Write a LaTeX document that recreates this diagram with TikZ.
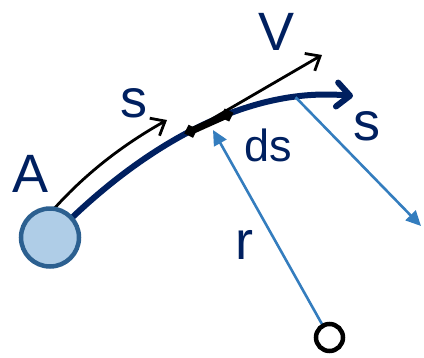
\documentclass[tikz,border=0pt]{standalone}
\usepackage{fontspec}
\setmainfont{Liberation Sans}
\usetikzlibrary{arrows.meta,shapes.geometric,backgrounds}
\definecolor{navy}{RGB}{0,32,96}
\definecolor{ballfill}{RGB}{175,205,231}
\definecolor{ballline}{RGB}{44,96,144}
\definecolor{rayblue}{RGB}{52,125,190}
\begin{document}
\begin{tikzpicture}[x=1pt,y=-1pt,
  lbl/.style={text=navy, font=\fontsize{54}{60}\selectfont, inner sep=0pt, anchor=base},
  ball/.style={circle, draw=ballline, fill=ballfill, line width=4.5pt, minimum size=58pt, inner sep=0pt, outer sep=0pt},
  origin/.style={circle, draw=black, fill=white, line width=4.5pt, minimum size=27pt, inner sep=0pt, outer sep=0pt},
  pathline/.style={draw=navy, line width=6pt, -{Straight Barb[length=13pt,width=24pt,round]}},
  vec/.style={draw=black, line width=2.8pt, -{Straight Barb[length=12pt,width=20pt]}},
  ray/.style={draw=rayblue, line width=2.6pt, -{Triangle[length=15pt,width=14pt]}},
  dmark/.style={diamond, fill=black, minimum size=14pt, inner sep=0pt},
  seg/.style={draw=black, line width=7pt}
]
\useasboundingbox (0,0) rectangle (424,357);
\node[ball] (ball) at (50,237.5) {};
\node[origin] (orig) at (329.5,337.5) {};
\coordinate (pend) at (353,96);
\coordinate (vtip) at (322,55);
\coordinate (stip) at (167,120);
\coordinate (rtip) at (213,130);
\coordinate (rtip2) at (421,226);
\begin{pgfonlayer}{background}
\draw[pathline] (ball.42) .. controls (145,148) and (245,86) .. (pend)
  coordinate[pos=0.47] (d1) coordinate[pos=0.595] (d2) coordinate[pos=0.82] (c);
\draw[vec] (ball.82) .. controls (88,171) and (126,143) .. (stip);
\draw[vec] (d1) -- (vtip);
\draw[ray] (orig) -- (rtip);
\draw[ray] (c) -- (rtip2);
\draw[seg] (d1) -- (d2);
\node[dmark, rotate=19] (m1) at (d1) {};
\node[dmark, rotate=19] (m2) at (d2) {};
\end{pgfonlayer}
\node[lbl] (lA) at (31,192) {A};
\node[lbl] (ls1) at (133.5,117) {s};
\node[lbl] (lV) at (276.5,50) {V};
\node[lbl, font=\fontsize{45}{50}\selectfont] (lds) at (268,161) {ds};
\node[lbl] (ls2) at (367,140) {s};
\node[lbl] (lr) at (244.7,259) {r};
\end{tikzpicture}
\end{document}
